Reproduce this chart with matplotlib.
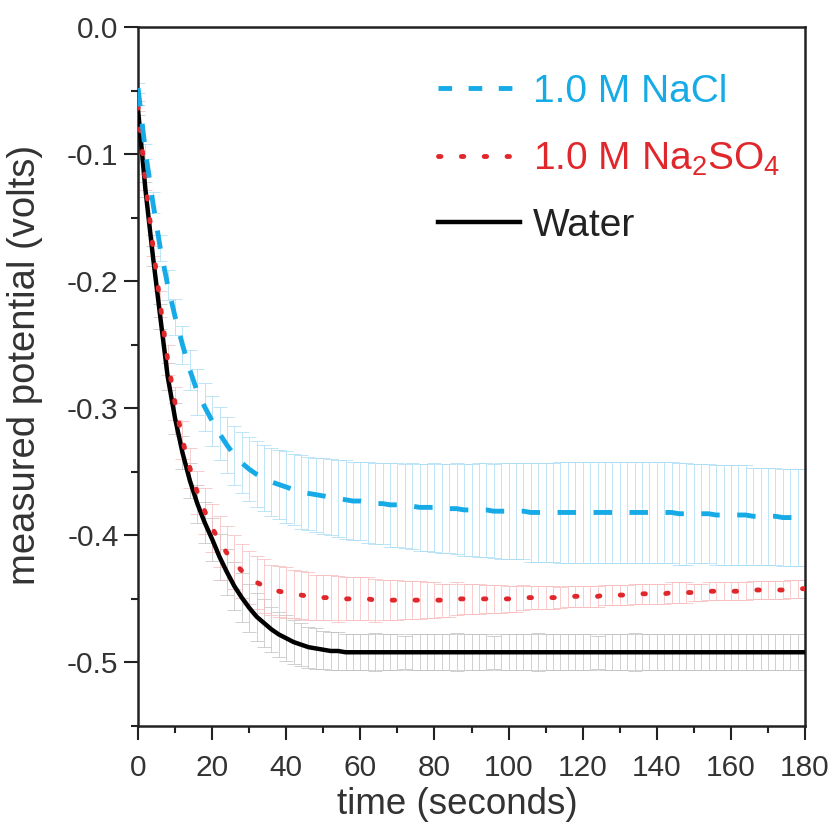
import numpy as np
import matplotlib
matplotlib.use("Agg")
import matplotlib.pyplot as plt
from matplotlib.lines import Line2D

plt.rcParams['font.family'] = ['Liberation Sans', 'DejaVu Sans']
plt.rcParams['mathtext.default'] = 'regular'

# sampled every 2 seconds, 0..180 s
time_s = np.arange(0, 181, 2)

water = [
    -0.065, -0.128, -0.180, -0.228, -0.275, -0.308, -0.335, -0.357, -0.375, -0.390,
    -0.403, -0.417, -0.429, -0.440, -0.449, -0.457, -0.464, -0.469, -0.474, -0.478,
    -0.481, -0.484, -0.486, -0.488, -0.489, -0.490, -0.491, -0.491, -0.492, -0.492,
    -0.492, -0.492, -0.492, -0.492, -0.492, -0.492, -0.492, -0.492, -0.492, -0.492,
    -0.492, -0.492, -0.492, -0.492, -0.492, -0.492, -0.492, -0.492, -0.492, -0.492,
    -0.492, -0.492, -0.492, -0.492, -0.492, -0.492, -0.492, -0.492, -0.492, -0.492,
    -0.492, -0.492, -0.492, -0.492, -0.492, -0.492, -0.492, -0.492, -0.492, -0.492,
    -0.492, -0.492, -0.492, -0.492, -0.492, -0.492, -0.492, -0.492, -0.492, -0.492,
    -0.492, -0.492, -0.492, -0.492, -0.492, -0.492, -0.492, -0.492, -0.492, -0.492,
    -0.492,
]
water_err = [
    0.004, 0.006, 0.008, 0.010, 0.011, 0.012, 0.013, 0.014, 0.015, 0.016,
    0.017, 0.018, 0.018, 0.019, 0.019, 0.019, 0.019, 0.019, 0.018, 0.018,
    0.018, 0.017, 0.017, 0.016, 0.016, 0.015, 0.015, 0.015, 0.014, 0.014,
    0.014, 0.014, 0.015, 0.014, 0.014, 0.014, 0.013, 0.014, 0.014, 0.014,
    0.014, 0.014, 0.014, 0.015, 0.014, 0.014, 0.014, 0.014, 0.013, 0.014,
    0.014, 0.014, 0.014, 0.014, 0.015, 0.014, 0.014, 0.014, 0.014, 0.014,
    0.014, 0.014, 0.013, 0.014, 0.014, 0.014, 0.014, 0.015, 0.014, 0.014,
    0.014, 0.014, 0.014, 0.014, 0.014, 0.014, 0.014, 0.014, 0.014, 0.014,
    0.014, 0.014, 0.014, 0.014, 0.014, 0.014, 0.014, 0.014, 0.014, 0.014,
    0.014,
]

na2so4 = [
    -0.062, -0.122, -0.172, -0.218, -0.262, -0.296, -0.325, -0.347, -0.366, -0.381,
    -0.394, -0.405, -0.414, -0.421, -0.428, -0.433, -0.437, -0.440, -0.443, -0.444,
    -0.445, -0.446, -0.447, -0.448, -0.449, -0.449, -0.449, -0.450, -0.450, -0.450,
    -0.450, -0.450, -0.451, -0.451, -0.451, -0.451, -0.451, -0.451, -0.451, -0.451,
    -0.451, -0.451, -0.451, -0.450, -0.450, -0.450, -0.450, -0.450, -0.450, -0.450,
    -0.450, -0.450, -0.449, -0.449, -0.449, -0.449, -0.449, -0.449, -0.448, -0.448,
    -0.448, -0.448, -0.448, -0.447, -0.447, -0.447, -0.447, -0.446, -0.446, -0.446,
    -0.446, -0.446, -0.445, -0.445, -0.445, -0.445, -0.445, -0.444, -0.444, -0.444,
    -0.444, -0.444, -0.444, -0.443, -0.443, -0.443, -0.443, -0.443, -0.442, -0.442,
    -0.442,
]
na2so4_err = [
    0.004, 0.006, 0.008, 0.010, 0.012, 0.013, 0.015, 0.016, 0.017, 0.018,
    0.019, 0.020, 0.021, 0.021, 0.021, 0.021, 0.021, 0.021, 0.020, 0.020,
    0.020, 0.019, 0.019, 0.019, 0.018, 0.018, 0.018, 0.018, 0.017, 0.017,
    0.017, 0.017, 0.017, 0.016, 0.016, 0.016, 0.015, 0.015, 0.015, 0.014,
    0.014, 0.013, 0.013, 0.013, 0.012, 0.012, 0.012, 0.011, 0.011, 0.011,
    0.010, 0.010, 0.010, 0.009, 0.009, 0.009, 0.009, 0.008, 0.008, 0.008,
    0.008, 0.008, 0.008, 0.008, 0.008, 0.008, 0.008, 0.008, 0.008, 0.008,
    0.008, 0.008, 0.008, 0.008, 0.008, 0.007, 0.007, 0.007, 0.007, 0.007,
    0.007, 0.007, 0.007, 0.007, 0.007, 0.007, 0.007, 0.007, 0.007, 0.007,
    0.007,
]

nacl = [
    -0.048, -0.098, -0.138, -0.174, -0.203, -0.228, -0.250, -0.270, -0.287, -0.299,
    -0.310, -0.320, -0.329, -0.337, -0.343, -0.348, -0.352, -0.355, -0.358, -0.360,
    -0.362, -0.364, -0.366, -0.367, -0.368, -0.369, -0.370, -0.371, -0.372, -0.373,
    -0.373, -0.374, -0.375, -0.375, -0.376, -0.376, -0.377, -0.377, -0.378, -0.378,
    -0.378, -0.379, -0.379, -0.379, -0.380, -0.380, -0.380, -0.380, -0.381, -0.381,
    -0.381, -0.381, -0.381, -0.382, -0.382, -0.382, -0.382, -0.382, -0.382, -0.382,
    -0.382, -0.382, -0.382, -0.382, -0.382, -0.382, -0.382, -0.382, -0.382, -0.382,
    -0.382, -0.382, -0.382, -0.383, -0.383, -0.383, -0.383, -0.383, -0.384, -0.384,
    -0.384, -0.384, -0.384, -0.385, -0.385, -0.385, -0.385, -0.386, -0.386, -0.386,
    -0.386,
]
nacl_err = [
    0.004, 0.006, 0.008, 0.010, 0.012, 0.014, 0.015, 0.016, 0.018, 0.019,
    0.020, 0.021, 0.022, 0.023, 0.024, 0.025, 0.026, 0.026, 0.027, 0.027,
    0.028, 0.028, 0.029, 0.029, 0.029, 0.030, 0.030, 0.030, 0.031, 0.031,
    0.031, 0.032, 0.032, 0.032, 0.033, 0.033, 0.033, 0.034, 0.034, 0.034,
    0.035, 0.035, 0.035, 0.036, 0.036, 0.036, 0.037, 0.037, 0.037, 0.038,
    0.038, 0.038, 0.038, 0.039, 0.039, 0.039, 0.039, 0.040, 0.040, 0.040,
    0.040, 0.040, 0.040, 0.040, 0.040, 0.040, 0.040, 0.040, 0.040, 0.040,
    0.040, 0.040, 0.040, 0.040, 0.040, 0.039, 0.039, 0.039, 0.039, 0.039,
    0.039, 0.039, 0.039, 0.038, 0.038, 0.038, 0.038, 0.038, 0.038, 0.038,
    0.038,
]

blue = '#16abe6'
red = '#e0282c'
dash_plot = (0, (3.8, 3.6))
dot_style = (0, (0.5, 4.2))

fig = plt.figure(figsize=(8.35, 8.31), dpi=100)
ax = fig.add_axes([0.1653, 0.1264, 0.7988, 0.8411])

# error bars first (light), then the mean curves
eb = dict(fmt='none', elinewidth=0.5, capsize=5, capthick=0.5, zorder=1)
ax.errorbar(time_s, water, yerr=water_err, ecolor='#bdbdbd', **eb)
ax.errorbar(time_s, na2so4, yerr=na2so4_err, ecolor='#f6b8b8', **eb)
ax.errorbar(time_s, nacl, yerr=nacl_err, ecolor='#a5daf3', **eb)

ax.plot(time_s, water, color='black', lw=3.2, zorder=3)
ax.plot(time_s, na2so4, color=red, lw=3.5, linestyle=dot_style,
        dash_capstyle='round', zorder=3)
ax.plot(time_s, nacl, color=blue, lw=3.5, linestyle=dash_plot, zorder=3)

ax.set_xlim(0, 180)
ax.set_ylim(-0.55, 0.0)
ax.set_xticks(np.arange(0, 181, 20))
ax.set_xticks(np.arange(10, 180, 20), minor=True)
ax.set_yticks(np.arange(-0.5, 0.01, 0.1))
ax.set_yticks(np.arange(-0.55, 0.0, 0.1), minor=True)
ax.set_yticklabels(['-0.5', '-0.4', '-0.3', '-0.2', '-0.1', '0.0'])

ax.tick_params(which='major', direction='out', length=10, width=1.5,
               labelsize=21.5, colors='#222222')
ax.tick_params(which='minor', direction='out', length=5, width=1.5, colors='#222222')
ax.tick_params(axis='x', which='major', pad=10)
ax.tick_params(axis='y', which='major', pad=4)
ax.tick_params(labelcolor='#333333')
for sp in ax.spines.values():
    sp.set_linewidth(1.8)
    sp.set_color('#222222')

ax.set_xlabel('time (seconds)', fontsize=26.5, color='#333333')
ax.set_ylabel('measured potential (volts)', fontsize=27.5, color='#333333')
ax.xaxis.set_label_coords(0.478, -0.088)
ax.yaxis.set_label_coords(-0.142, 0.516)

handles = [
    Line2D([], [], color=blue, lw=3.5, linestyle=(0, (2.8, 3.4))),
    Line2D([], [], color=red, lw=3.5, linestyle=dot_style, dash_capstyle='round'),
    Line2D([], [], color='black', lw=3.2),
]
labels = ['1.0 M NaCl', '1.0 M Na$_2$SO$_4$', 'Water']
leg = ax.legend(handles, labels, loc='upper left', frameon=False, fontsize=28,
                bbox_to_anchor=(438 / 835, (831 - 74) / 831),
                bbox_transform=fig.transFigure, borderpad=0, borderaxespad=0,
                handlelength=2.1, handletextpad=0.35, labelspacing=0.78)
for txt, col in zip(leg.get_texts(), [blue, red, '#222222']):
    txt.set_color(col)

fig.savefig('out.png', dpi=100)
